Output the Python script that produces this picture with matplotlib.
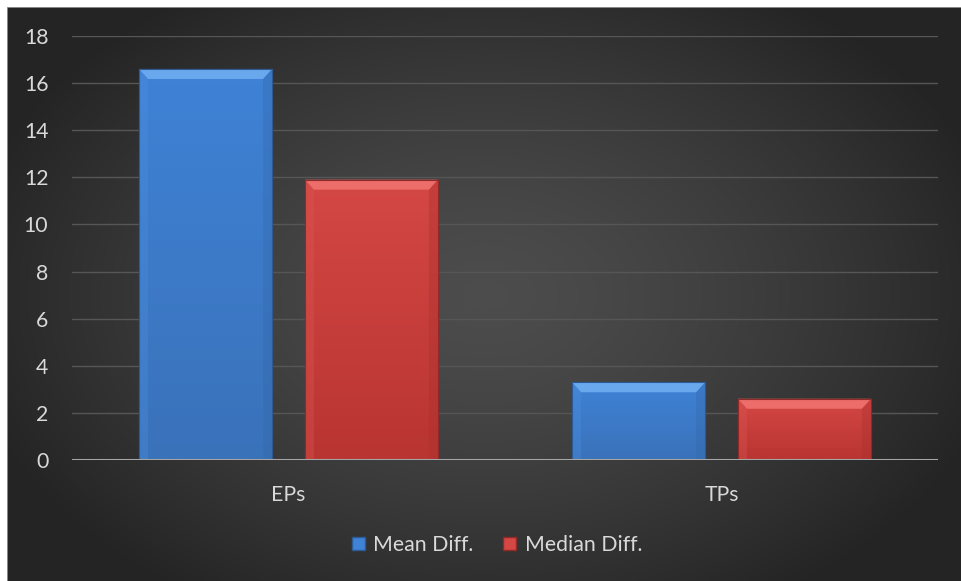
import numpy as np
import matplotlib
matplotlib.use("Agg")
import matplotlib.pyplot as plt
from matplotlib.patches import Polygon, Patch, Rectangle
from matplotlib.colors import to_rgb

categories = ["EPs", "TPs"]
series_names = ["Mean Diff.", "Median Diff."]
mean_diff = [16.6, 3.3]
median_diff = [11.9, 2.6]
y_ticks = [0, 2, 4, 6, 8, 10, 12, 14, 16, 18]

plt.rcParams["font.family"] = ["Lato", "DejaVu Sans"]
TEXT = "#d9d9d9"
FS = 15.3

W, H = 961, 581
fig = plt.figure(figsize=(W / 100, H / 100), dpi=100, facecolor="white")

# dark chart area with a soft radial glow
bg = fig.add_axes([7 / W, 0, (W - 7) / W, (H - 7) / H])
bg.set_axis_off()
ny, nx = 300, 500
yy, xx = np.mgrid[0:ny, 0:nx]
r = np.sqrt(((xx - nx * 0.5) / (nx * 0.55)) ** 2 + ((yy - ny * 0.5) / (ny * 0.62)) ** 2)
r = np.clip(r, 0, 1)
lo, hi = 0.145, 0.300
val = hi - (hi - lo) * r ** 1.4
img = np.dstack([val, val, val])
bg.imshow(img, extent=[0, 1, 0, 1], aspect="auto", interpolation="bilinear", zorder=0)
bg.set_xlim(0, 1)
bg.set_ylim(0, 1)
bg.plot([0.0005, 0.0005], [0, 0.9995], color="#9a9a9a", lw=1.2, zorder=2)
bg.plot([0, 1], [0.9995, 0.9995], color="#9a9a9a", lw=1.2, zorder=2)

ax = fig.add_axes([72 / W, (H - 460) / H, 866 / W, 424 / H])
ax.patch.set_alpha(0)
ax.set_xlim(-0.5, 1.5)
ax.set_ylim(0, 18)
ax.set_yticks(y_ticks)
ax.set_yticklabels([str(t) for t in y_ticks])
ax.set_xticks(range(len(categories)))
ax.set_xticklabels(categories)
ax.tick_params(axis="both", length=0, colors=TEXT, labelsize=FS)
ax.tick_params(axis="y", pad=17)
ax.tick_params(axis="x", pad=18)
for s in ax.spines.values():
    s.set_visible(False)
ax.grid(axis="y", color="#565656", lw=1.0)
ax.set_axisbelow(True)

width = 0.307
gap = 0.076
x = np.arange(len(categories))
offs = [-(width + gap) / 2, (width + gap) / 2]

styles = [
    dict(top="#3f82d6", bottom="#3a72ba", edge="#2d5a93", bevel_top="#6aa8ee", bevel_left="#4d8fdd", bevel_right="#3468a8"),
    dict(top="#d44744", bottom="#b93532", edge="#8f2a28", bevel_top="#ec6d69", bevel_left="#db5652", bevel_right="#a8302e"),
]

fig.canvas.draw()
inv = ax.transData.inverted()


def px_to_data(dx, dy):
    p0 = inv.transform((0, 0))
    p1 = inv.transform((dx, dy))
    return p1[0] - p0[0], p1[1] - p0[1]


bx, by = px_to_data(9, 10)
grad = np.linspace(0, 1, 64).reshape(-1, 1)

for vals, off, st in zip([mean_diff, median_diff], offs, styles):
    bars = ax.bar(x + off, vals, width, color=st["top"], edgecolor=st["edge"], lw=0.8, zorder=3)
    c_top = np.array(to_rgb(st["top"]))
    c_bot = np.array(to_rgb(st["bottom"]))
    for b in bars:
        x0, w, h = b.get_x(), b.get_width(), b.get_height()
        x1 = x0 + w
        g = c_top[None, None, :] * (1 - grad[..., None]) + c_bot[None, None, :] * grad[..., None]
        im = ax.imshow(g, extent=[x0, x1, 0, h], aspect="auto", zorder=3.1, interpolation="bilinear")
        im.set_clip_path(b)
        byy = min(by, h * 0.25)
        ax.add_patch(Polygon([(x0, h), (x1, h), (x1 - bx, h - byy), (x0 + bx, h - byy)],
                             closed=True, facecolor=st["bevel_top"], edgecolor="none", zorder=3.3))
        ax.add_patch(Polygon([(x0, 0), (x0, h), (x0 + bx, h - byy), (x0 + bx, 0)],
                             closed=True, facecolor=st["bevel_left"], edgecolor="none", alpha=0.35, zorder=3.2))
        ax.add_patch(Polygon([(x1, 0), (x1, h), (x1 - bx, h - byy), (x1 - bx, 0)],
                             closed=True, facecolor=st["bevel_right"], edgecolor="none", alpha=0.35, zorder=3.2))
        ax.add_patch(Rectangle((x0, 0), w, h, facecolor="none", edgecolor=st["edge"], lw=0.8, zorder=3.4))

ax.axhline(0, color="#a6a6a6", lw=2.2, zorder=4)

handles = [Patch(facecolor=styles[0]["top"], edgecolor=styles[0]["edge"]),
           Patch(facecolor=styles[1]["top"], edgecolor=styles[1]["edge"])]
fig.legend(handles, series_names, loc="center", bbox_to_anchor=(497 / W, (H - 545) / H),
           ncol=2, frameon=False, fontsize=FS, labelcolor=TEXT,
           handlelength=0.6, handleheight=0.6, handletextpad=0.4, columnspacing=1.4)

fig.savefig("out.png", dpi=100, facecolor="white")
